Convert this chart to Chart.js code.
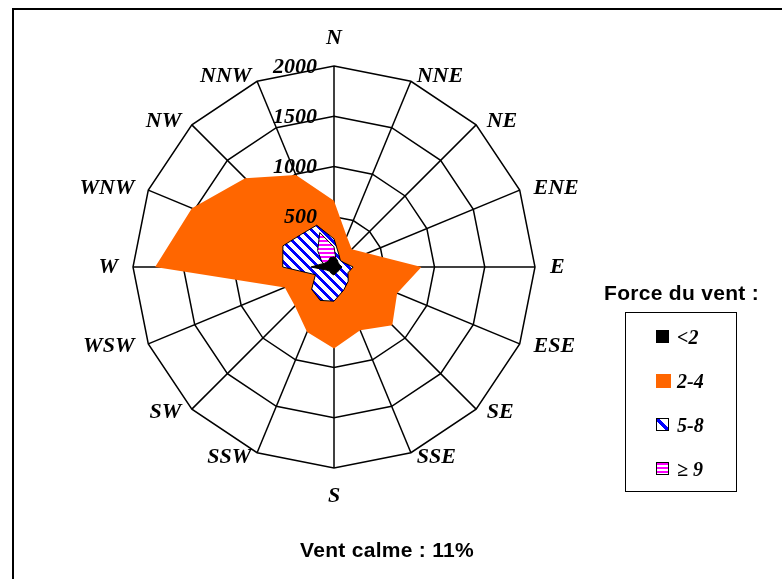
<!DOCTYPE html>
<html>
<head>
<meta charset="utf-8">
<script src="https://cdn.jsdelivr.net/npm/chart.js@4.4.0/dist/chart.umd.min.js"></script>
<style>
  body { margin: 0; background: #fff; width: 782px; height: 579px; overflow: hidden; position: relative; }
  #frame { position: absolute; left: 12px; top: 8px; width: 820px; height: 620px; border-top: 2px solid #000; border-left: 2px solid #000; }
  #wrap { position: absolute; left: 0; top: 0; width: 782px; height: 579px; }
  .sans { position: absolute; font-family: "Liberation Sans", Arial, sans-serif; font-weight: bold; font-size: 21px; line-height: 21px; letter-spacing: 0.3px; color: #000; white-space: nowrap; }
  #legend { position: absolute; left: 625px; top: 312px; width: 110px; height: 178px; border: 1px solid #000; }
  .item { position: absolute; left: 0; height: 20px; width: 110px; }
  .icon { position: absolute; left: 30px; top: 3px; width: 11px; height: 11px; border: 1px solid #000; }
  .txt { position: absolute; left: 51px; top: 0; font-family: "Liberation Serif", "Times New Roman", serif; font-style: italic; font-weight: bold; font-size: 20px; line-height: 20px; }
</style>
</head>
<body>
<div id="frame"></div>
<div id="wrap"><canvas id="windRose"></canvas></div>
<div class="sans" style="left:604px;top:282px">Force du vent :</div>
<div id="legend"></div>
<div class="sans" style="left:300px;top:539px">Vent calme : 11%</div>
<script>
// directions, clockwise from north
var directions = ['N', 'NNE', 'NE', 'ENE', 'E', 'ESE', 'SE', 'SSE', 'S', 'SSW', 'SW', 'WSW', 'W', 'WNW', 'NW', 'NNW'];
var ringTicks = [500, 1000, 1500, 2000];
var seriesNames = ['<2', '2-4', '5-8', '\u2265 9'];

// counts per wind force class
var forceLt2 = [100, 80, 60, 60, 80, 60, 60, 60, 80, 70, 60, 80, 230, 100, 80, 100];
var force2to4 = [660, 330, 250, 360, 870, 680, 820, 680, 810, 700, 550, 530, 1780, 1530, 1250, 990];
var force5to8 = [280, 130, 90, 110, 190, 150, 200, 250, 340, 360, 315, 200, 510, 550, 460, 450];
var force9plus = [200, 60, 30, 30, 40, 30, 40, 50, 60, 50, 40, 40, 60, 130, 230, 370];

function makePattern(size, test, color) {
  var c = document.createElement('canvas');
  c.width = size; c.height = size;
  var g = c.getContext('2d');
  g.fillStyle = '#fff';
  g.fillRect(0, 0, size, size);
  g.fillStyle = color;
  for (var x = 0; x < size; x++) {
    for (var y = 0; y < size; y++) {
      if (test(x, y)) g.fillRect(x, y, 1, 1);
    }
  }
  return g.createPattern(c, 'repeat');
}
var blueHatch = makePattern(10, function (x, y) { return ((x - y) % 10 + 10) % 10 < 4; }, '#0000ff');
var pinkHatch = makePattern(4, function (x, y) { return y < 2; }, '#ff00ff');

// legend
var legendIcons = [
  'background:#000',
  'background:#ff6600;border-color:#ff6600;width:13px;height:12px',
  'background:linear-gradient(to top right,#fff 40%,#00f 40%,#00f 62%,#fff 62%)',
  'background:repeating-linear-gradient(to bottom,#ff00ff 0 2px,#fff 2px 4px)'
];
var legend = document.getElementById('legend');
seriesNames.forEach(function (name, i) {
  var d = document.createElement('div');
  d.className = 'item';
  d.style.top = (14 + i * 44) + 'px';
  d.innerHTML = '<span class="icon" style="' + legendIcons[i] + '"></span><span class="txt"></span>';
  d.querySelector('.txt').textContent = name;
  legend.appendChild(d);
});

// direction names placed like the old excel rose, and ring values left of the north spoke
var roseText = {
  id: 'roseText',
  afterDraw: function (chart) {
    var s = chart.scales.r;
    var ctx = chart.ctx;
    ctx.save();
    ctx.font = 'italic bold 22px "Liberation Serif"';
    ctx.fillStyle = '#000';
    ctx.textBaseline = 'middle';
    directions.forEach(function (name, i) {
      var a = s.getIndexAngle(i);
      var sn = Math.sin(a);
      var px = s.getPointPosition(i, s.drawingArea + 15).x;
      var py;
      if (Math.abs(sn) < 0.1) {
        ctx.textAlign = 'center';
        py = s.getPointPosition(i, s.drawingArea + 28).y;
      } else {
        ctx.textAlign = sn > 0 ? 'left' : 'right';
        py = s.getPointPosition(i, s.drawingArea + 5).y;
      }
      ctx.fillText(name, px, py);
    });
    ctx.textAlign = 'right';
    ringTicks.forEach(function (v) {
      ctx.fillText(String(v), s.xCenter - 17, s.yCenter - s.getDistanceFromCenterForValue(v) + 1);
    });
    ctx.restore();
  }
};

var canvas = document.getElementById('windRose');
canvas.width = 782; canvas.height = 579;
var ctx = canvas.getContext('2d');
var windRose = new Chart(ctx, {
  type: 'radar',
  data: {
    labels: directions,
    datasets: [{
      label: seriesNames[0],
      data: forceLt2,
      backgroundColor: '#000',
      borderColor: '#000',
      borderWidth: 1,
      order: 0
    }, {
      label: seriesNames[1],
      data: force2to4,
      backgroundColor: '#ff6600',
      borderWidth: 0,
      order: 3
    }, {
      label: seriesNames[2],
      data: force5to8,
      backgroundColor: blueHatch,
      borderColor: '#000',
      borderWidth: 1,
      order: 2
    }, {
      label: seriesNames[3],
      data: force9plus,
      backgroundColor: pinkHatch,
      borderColor: '#000',
      borderWidth: 1,
      order: 1
    }]
  },
  options: {
    responsive: false,
    animation: false,
    layout: {
      padding: { left: 133, right: 247, top: 66, bottom: 111 }
    },
    elements: {
      line: { tension: 0, fill: true },
      point: { radius: 0, hoverRadius: 0 }
    },
    plugins: {
      legend: { display: false },
      tooltip: { enabled: false }
    },
    scales: {
      r: {
        z: 1,
        min: 0,
        max: 2000,
        ticks: { stepSize: 500, display: false },
        grid: { color: '#000', lineWidth: 1.5 },
        angleLines: { color: '#000', lineWidth: 1.5 },
        pointLabels: { display: false }
      }
    }
  },
  plugins: [roseText]
});
</script>
</body>
</html>
